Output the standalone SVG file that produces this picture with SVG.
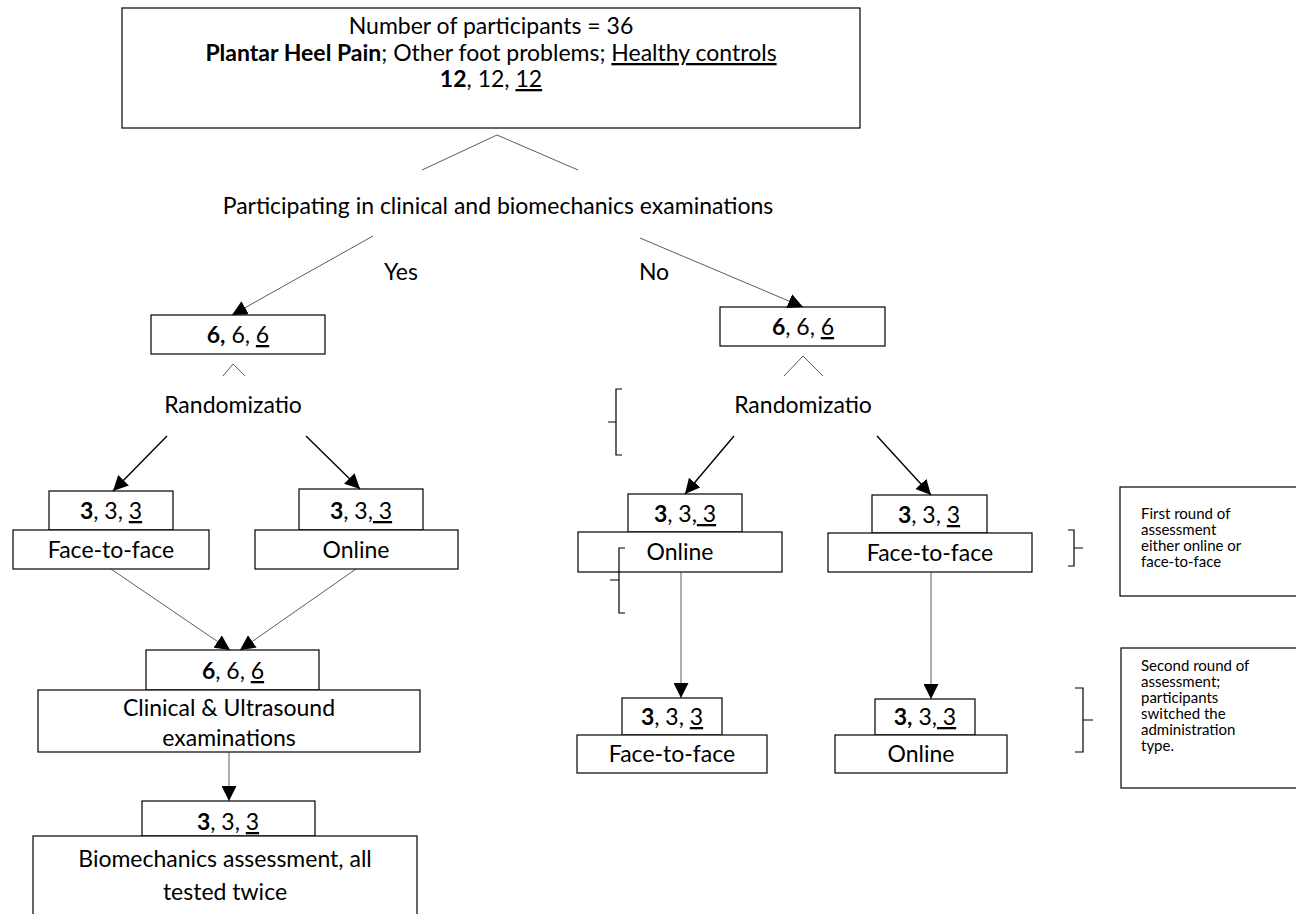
<svg xmlns="http://www.w3.org/2000/svg" width="1296" height="914" viewBox="0 0 1296 914">
  <defs>
    <marker id="arrow" viewBox="0 0 14 14" refX="14" refY="7" markerWidth="15" markerHeight="15" markerUnits="userSpaceOnUse" orient="auto">
      <path d="M0,0 L14,7 L0,14 Z" fill="#000"/>
    </marker>
    <style>
      .box { fill: #fff; stroke: #000; stroke-width: 1.2; }
      .t { font-family: "Lato", "Liberation Sans", sans-serif; font-size: 23px; fill: #000; text-anchor: middle; }
      .side { font-family: "Lato", "Liberation Sans", sans-serif; font-size: 15px; fill: #000; }
      .b { font-weight: bold; }
      .u { text-decoration: underline; }
      .thin { fill: none; stroke: #333; stroke-width: 0.8; }
      .thick { fill: none; stroke: #000; stroke-width: 1.4; }
      .brace { fill: none; stroke: #000; stroke-width: 1.2; }
    </style>
  </defs>
  <rect width="1296" height="914" fill="#fff"/>

  <!-- Root -->
  <g id="root">
    <rect class="box" x="122" y="8" width="738" height="120"/>
    <text class="t" x="491" y="34">Number of participants = 36</text>
    <text class="t" x="491" y="61"><tspan class="b">Plantar Heel Pain</tspan>; Other foot problems; <tspan class="u">Healthy controls</tspan></text>
    <text class="t" x="491" y="87"><tspan class="b">12</tspan>, 12, <tspan class="u">12</tspan></text>
  </g>

  <g id="participating">
    <text class="t" x="498" y="214">Participating in clinical and biomechanics examinations</text>
  </g>

  <g id="labels">
    <text class="t" x="401" y="280">Yes</text>
    <text class="t" x="654" y="280">No</text>
  </g>

  <!-- Yes branch -->
  <g id="yes-count">
    <rect class="box" x="151" y="315" width="174" height="39"/>
    <text class="t" x="238" y="343"><tspan class="b">6,</tspan> 6, <tspan class="u"> 6</tspan></text>
  </g>
  <g id="yes-random">
    <text class="t" x="233" y="413">Randomizatio</text>
  </g>
  <g id="yes-f2f">
    <rect class="box" x="49" y="491" width="124" height="39"/>
    <text class="t" x="111" y="519"><tspan class="b">3</tspan>, 3, <tspan class="u">3</tspan></text>
    <rect class="box" x="13" y="530" width="196" height="39"/>
    <text class="t" x="111" y="558">Face-to-face</text>
  </g>
  <g id="yes-online">
    <rect class="box" x="299" y="489" width="124" height="41"/>
    <text class="t" x="361" y="519"><tspan class="b">3</tspan>, 3,<tspan class="u"> 3</tspan></text>
    <rect class="box" x="255" y="530" width="203" height="39"/>
    <text class="t" x="356" y="558">Online</text>
  </g>
  <g id="clinical">
    <rect class="box" x="146" y="650" width="173" height="40"/>
    <text class="t" x="233" y="679"><tspan class="b">6</tspan>, 6, <tspan class="u">6</tspan></text>
    <rect class="box" x="38" y="690" width="382" height="62"/>
    <text class="t" x="229" y="716">Clinical &amp; Ultrasound</text>
    <text class="t" x="229" y="746">examinations</text>
  </g>
  <g id="biomechanics">
    <rect class="box" x="142" y="801" width="173" height="35"/>
    <text class="t" x="228" y="830"><tspan class="b">3</tspan>, 3, <tspan class="u">3</tspan></text>
    <rect class="box" x="33" y="836" width="384" height="84"/>
    <text class="t" x="225" y="867">Biomechanics assessment, all</text>
    <text class="t" x="225" y="900">tested twice</text>
  </g>

  <!-- No branch -->
  <g id="no-count">
    <rect class="box" x="720" y="307" width="165" height="39"/>
    <text class="t" x="803" y="335"><tspan class="b">6</tspan>, 6, <tspan class="u">6</tspan></text>
  </g>
  <g id="no-random">
    <text class="t" x="803" y="413">Randomizatio</text>
  </g>
  <g id="no-online">
    <rect class="box" x="628" y="494" width="114" height="38"/>
    <text class="t" x="685" y="522"><tspan class="b">3</tspan>, 3,<tspan class="u"> 3</tspan></text>
    <rect class="box" x="578" y="532" width="204" height="40"/>
    <text class="t" x="680" y="560">Online</text>
  </g>
  <g id="no-f2f">
    <rect class="box" x="872" y="495" width="115" height="38"/>
    <text class="t" x="929" y="523"><tspan class="b">3</tspan>, 3, <tspan class="u">3</tspan></text>
    <rect class="box" x="828" y="533" width="204" height="39"/>
    <text class="t" x="930" y="561">Face-to-face</text>
  </g>
  <g id="no-second-f2f">
    <rect class="box" x="622" y="698" width="100" height="37"/>
    <text class="t" x="672" y="725"><tspan class="b">3</tspan>, 3, <tspan class="u">3</tspan></text>
    <rect class="box" x="577" y="735" width="190" height="38"/>
    <text class="t" x="672" y="762">Face-to-face</text>
  </g>
  <g id="no-second-online">
    <rect class="box" x="875" y="699" width="100" height="36"/>
    <text class="t" x="925" y="725"><tspan class="b">3,</tspan> 3,<tspan class="u"> 3</tspan></text>
    <rect class="box" x="835" y="735" width="172" height="38"/>
    <text class="t" x="921" y="762">Online</text>
  </g>

  <!-- Notes -->
  <g id="note-first">
    <rect class="box" x="1120" y="487" width="190" height="109"/>
    <text class="side" x="1141" y="519">First round of</text>
    <text class="side" x="1141" y="535">assessment</text>
    <text class="side" x="1141" y="551">either online or</text>
    <text class="side" x="1141" y="567">face-to-face</text>
  </g>
  <g id="note-second">
    <rect class="box" x="1121" y="648" width="190" height="140"/>
    <text class="side" x="1141" y="671">Second round of</text>
    <text class="side" x="1141" y="687">assessment;</text>
    <text class="side" x="1141" y="703">participants</text>
    <text class="side" x="1141" y="719">switched the</text>
    <text class="side" x="1141" y="735">administration</text>
    <text class="side" x="1141" y="751">type.</text>
  </g>

  <!-- Braces -->
  <g id="braces">
    <path class="brace" d="M622,389 L616,389 L616,455 L622,455 M616,422 L608,422"/>
    <path class="brace" d="M625,548 L619,548 L619,613 L625,613 M619,580 L610,580"/>
    <path class="brace" d="M1068,530 L1074,530 L1074,566 L1068,566 M1074,548 L1083,548"/>
    <path class="brace" d="M1075,688 L1083,688 L1083,752 L1075,752 M1083,720 L1093,720"/>
  </g>

  <!-- Connectors -->
  <g id="connectors">
    <path class="thin" d="M422,170 L497,135 L578,170"/>
    <path class="thin" d="M223,376 L233,364 L245,376"/>
    <path class="thin" d="M784,376 L803,356 L823,376"/>
    <line class="thin" x1="373" y1="236" x2="232" y2="315" marker-end="url(#arrow)"/>
    <line class="thin" x1="640" y1="238" x2="803" y2="307" marker-end="url(#arrow)"/>
    <line class="thick" x1="167" y1="436" x2="113" y2="491" marker-end="url(#arrow)"/>
    <line class="thick" x1="306" y1="436" x2="360" y2="489" marker-end="url(#arrow)"/>
    <line class="thick" x1="734" y1="436" x2="685" y2="494" marker-end="url(#arrow)"/>
    <line class="thick" x1="877" y1="436" x2="931" y2="495" marker-end="url(#arrow)"/>
    <line class="thin" x1="111" y1="569" x2="230" y2="650" marker-end="url(#arrow)"/>
    <line class="thin" x1="356" y1="569" x2="240" y2="650" marker-end="url(#arrow)"/>
    <line class="thin" x1="229" y1="752" x2="229" y2="801" marker-end="url(#arrow)"/>
    <line class="thin" x1="681" y1="572" x2="681" y2="698" marker-end="url(#arrow)"/>
    <line class="thin" x1="931" y1="572" x2="931" y2="699" marker-end="url(#arrow)"/>
  </g>
</svg>
